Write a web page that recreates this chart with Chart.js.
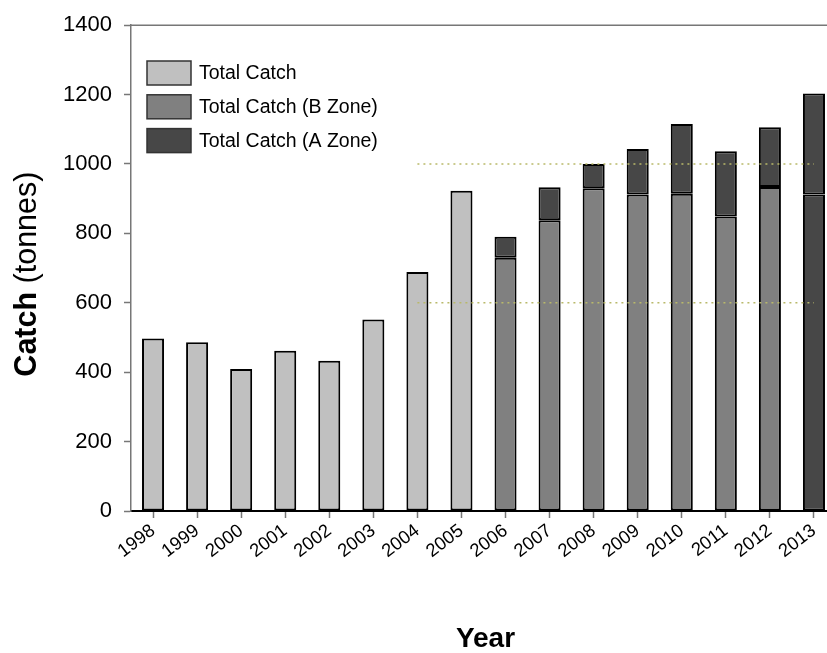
<!DOCTYPE html>
<html>
<head>
<meta charset="utf-8">
<script src="https://cdn.jsdelivr.net/npm/chart.js@4.4.1/dist/chart.umd.min.js"></script>
<style>
  html, body { margin: 0; padding: 0; background: #fff; overflow: hidden; }
  #wrap { width: 842px; height: 653px; }
</style>
</head>
<body>
<div id="wrap"><canvas id="catchChart" width="842" height="653"></canvas></div>
<script>
// Catch (tonnes) per year
const years = ['1998', '1999', '2000', '2001', '2002', '2003', '2004', '2005',
               '2006', '2007', '2008', '2009', '2010', '2011', '2012', '2013'];
const totalCatch = [497, 486, 409, 462, 433, 552, 689, 923,
                    null, null, null, null, null, null, null, null];
const zoneB = [null, null, null, null, null, null, null, null,
               730, 838, 930, 912, 914, 849, 934, 912];
const zoneA = [null, null, null, null, null, null, null, null,
               60, 95, 70, 131, 201, 188, 172, 291];
// dotted reference levels, drawn from 2004 onwards
const refLevels = [600, 1000];
const refFrom = '2004';

const LIGHT = '#c0c0c0';
const MID = '#808080';
const DARK = '#474747';
const FONT = "'Liberation Sans', Arial, sans-serif";

Chart.defaults.font.family = FONT;
Chart.defaults.color = '#000';

const refStart = years.indexOf(refFrom);
const refDatasets = refLevels.map((lvl, k) => ({
    type: 'line',
    data: years.map((y, i) => (i >= refStart ? lvl : null)),
    stack: 'ref' + k,
    borderColor: '#b9b96a',
    borderWidth: 1.5,
    borderDash: [2, 4],
    pointRadius: 0,
    fill: false
}));

const legendItems = [
    { label: 'Total Catch', color: LIGHT },
    { label: 'Total Catch (B Zone)', color: MID },
    { label: 'Total Catch (A Zone)', color: DARK }
];

// axis titles, top frame line and the in-plot legend
const extras = {
    id: 'extras',
    afterDraw(chart) {
        const { ctx, chartArea: a } = chart;
        ctx.save();

        ctx.strokeStyle = '#777';
        ctx.lineWidth = 1.5;
        ctx.beginPath();
        ctx.moveTo(a.left, a.top);
        ctx.lineTo(a.right, a.top);
        ctx.stroke();

        // y title: "Catch" bold + " (tonnes)"
        ctx.fillStyle = '#000';
        ctx.textBaseline = 'alphabetic';
        ctx.textAlign = 'left';
        const boldF = 'bold 30.5px ' + FONT;
        const normF = '30.5px ' + FONT;
        ctx.font = boldF;
        const w1 = ctx.measureText('Catch').width;
        ctx.font = normF;
        const w2 = ctx.measureText(' (tonnes)').width;
        ctx.save();
        ctx.translate(36, (a.top + a.bottom) / 2 + 6);
        ctx.rotate(-Math.PI / 2);
        ctx.font = boldF;
        ctx.fillText('Catch', -(w1 + w2) / 2, 0);
        ctx.font = normF;
        ctx.fillText(' (tonnes)', -(w1 + w2) / 2 + w1, 0);
        ctx.restore();

        // x title
        ctx.font = 'bold 28px ' + FONT;
        ctx.textAlign = 'center';
        ctx.fillText('Year', (a.left + a.right) / 2 + 2, 647);

        // legend
        ctx.textAlign = 'left';
        ctx.textBaseline = 'middle';
        ctx.font = '19.5px ' + FONT;
        legendItems.forEach((it, i) => {
            const y = 61 + i * 33.8;
            ctx.fillStyle = it.color;
            ctx.fillRect(147, y, 44, 24);
            ctx.strokeStyle = '#333';
            ctx.lineWidth = 1.5;
            ctx.strokeRect(147, y, 44, 24);
            ctx.fillStyle = '#000';
            ctx.fillText(it.label, 199, y + 13);
        });
        ctx.restore();
    }
};

const barStyle = {
    borderColor: '#000',
    borderWidth: 2,
    borderSkipped: false,
    barPercentage: 0.5,
    categoryPercentage: 1
};

new Chart(document.getElementById('catchChart'), {
    type: 'bar',
    data: {
        labels: years,
        datasets: [
            ...refDatasets,
            { label: 'Total Catch', data: totalCatch, backgroundColor: LIGHT, ...barStyle },
            { label: 'Total Catch (B Zone)', data: zoneB,
              backgroundColor: years.map(y => (y === '2013' ? DARK : MID)), ...barStyle },
            { label: 'Total Catch (A Zone)', data: zoneA, backgroundColor: DARK, ...barStyle }
        ]
    },
    options: {
        responsive: false,
        animation: false,
        layout: { padding: { top: 18, right: 6, left: 0, bottom: 0 } },
        plugins: {
            legend: { display: false },
            tooltip: { enabled: false }
        },
        scales: {
            x: {
                stacked: true,
                offset: true,
                grid: { offset: false, drawOnChartArea: false, tickLength: 7, tickColor: '#777', tickWidth: 1.5 },
                border: { color: '#000', width: 2 },
                ticks: { autoSkip: false, minRotation: 37, maxRotation: 37, padding: 2, font: { size: 18.5 } },
                afterFit(s) { s.height = 142; }
            },
            y: {
                stacked: true,
                min: 0,
                max: 1400,
                ticks: { stepSize: 200, padding: 12, font: { size: 22 }, callback: v => String(v) },
                grid: { drawOnChartArea: false, tickLength: 7, tickColor: '#777', tickWidth: 1.5 },
                border: { color: '#777', width: 1.5 },
                afterFit(s) { s.width = 131; }
            }
        }
    },
    plugins: [extras]
});
</script>
</body>
</html>
